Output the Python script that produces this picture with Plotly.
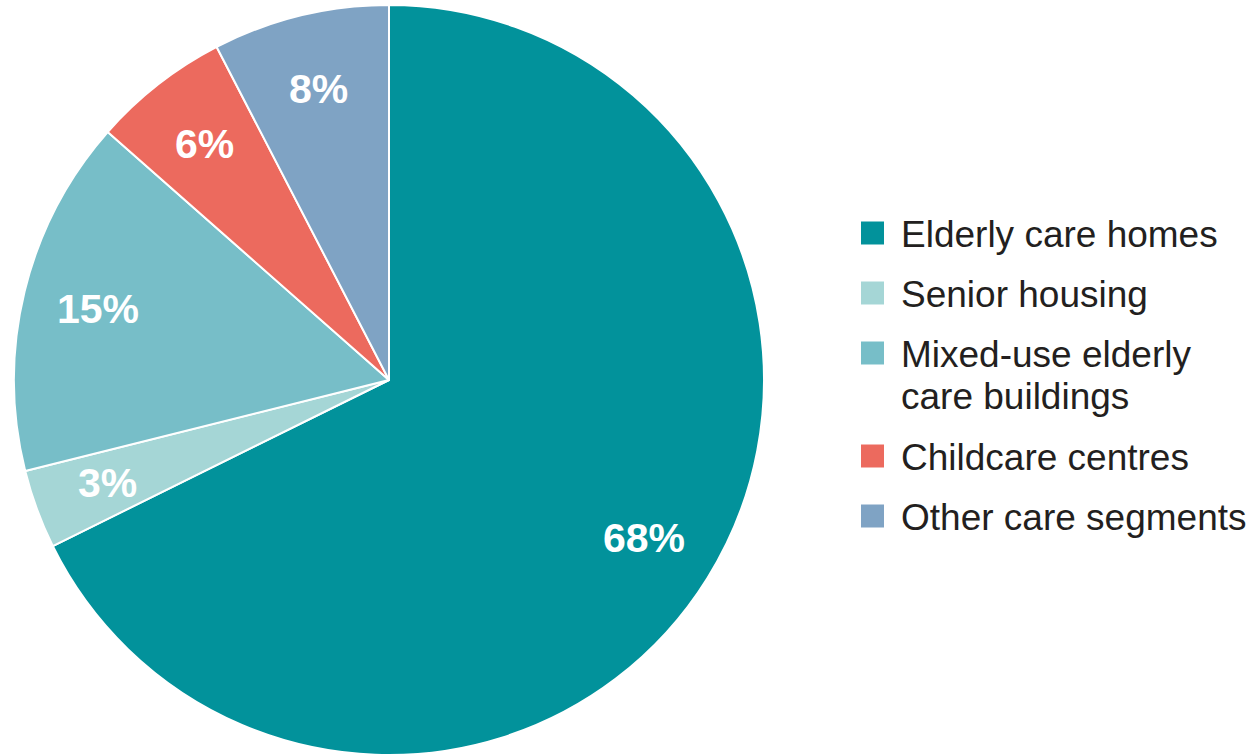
import math
import plotly.graph_objects as go

# ---- data ----
categories = ["Elderly care homes", "Senior housing", "Mixed-use elderly<br>care buildings",
              "Childcare centres", "Other care segments"]
shares = [67.7, 3.4, 15.4, 5.9, 7.6]
slice_colors = ["#02929B", "#A5D6D6", "#77BEC8", "#EC6A5E", "#7FA3C4"]

W, H = 1253, 755
MT, MB = 5, 0
plot_h = H - MT - MB
cx_px, cy_px = 389, MT + plot_h / 2
R = plot_h / 2


def px_to_paper(x, y):
    return x / W, 1 - (y - MT) / plot_h


fig = go.Figure()
fig.add_trace(go.Pie(
    labels=[c.replace("<br>", " ") for c in categories],
    values=shares,
    sort=False,
    direction="clockwise",
    rotation=0,
    marker=dict(colors=slice_colors, line=dict(color="white", width=2)),
    textinfo="none",
    hoverinfo="label+percent",
    showlegend=False,
    domain=dict(x=[(cx_px - R) / W, (cx_px + R) / W], y=[0, 1]),
))

annotations = []
# percentage labels positioned from the cumulative shares
total = sum(shares)
cum = 0
for v in shares:
    theta = 2 * math.pi * (cum + v / 2) / total
    cum += v
    f = 0.8
    x = cx_px + R * f * math.sin(theta)
    y = cy_px - R * f * math.cos(theta)
    xp, yp = px_to_paper(x, y)
    annotations.append(dict(
        x=xp, y=yp, xref="paper", yref="paper", showarrow=False,
        text=f"<b>{round(100 * v / total)}%</b>",
        font=dict(family="Liberation Sans, Arial", size=41, color="white"),
        xanchor="center", yanchor="middle",
    ))

# custom legend (large square swatches)
shapes = []
line_h = 43
item_gap = 17
y_line = 234
sq = 23
for cat, col in zip(categories, slice_colors):
    lines = cat.split("<br>")
    x0, y0 = px_to_paper(861, y_line - 1 - sq / 2)
    x1, y1 = px_to_paper(861 + sq, y_line - 1 + sq / 2)
    shapes.append(dict(type="rect", xref="paper", yref="paper",
                       x0=x0, x1=x1, y0=y1, y1=y0,
                       fillcolor=col, line=dict(width=0)))
    for k, ln in enumerate(lines):
        xp, yp = px_to_paper(899, y_line + k * line_h)
        annotations.append(dict(
            x=xp, y=yp, xref="paper", yref="paper", showarrow=False,
            text=ln, xanchor="left", yanchor="middle",
            font=dict(family="Liberation Sans, Arial", size=37, color="#231F20"),
        ))
    y_line += len(lines) * line_h + item_gap

fig.update_layout(
    width=W, height=H,
    margin=dict(l=0, r=0, t=MT, b=MB),
    paper_bgcolor="white",
    plot_bgcolor="white",
    annotations=annotations,
    shapes=shapes,
    showlegend=False,
)

fig.write_html(
    "out.html",
    config={"displayModeBar": False},
    post_script="document.body.style.margin='0';document.body.style.overflow='hidden';",
)
